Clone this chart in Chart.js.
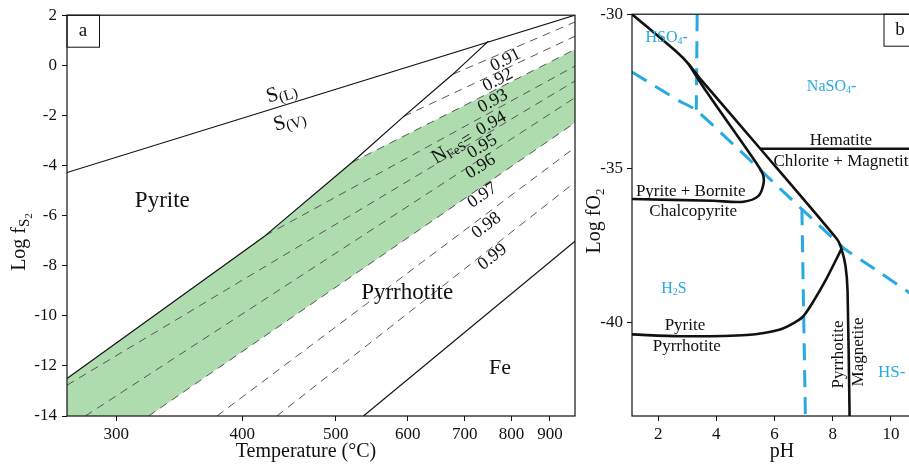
<!DOCTYPE html>
<html>
<head>
<meta charset="utf-8">
<script src="https://cdn.jsdelivr.net/npm/chart.js@4.4.0/dist/chart.umd.min.js"></script>
<style>
html,body{margin:0;padding:0;background:#fff;overflow:hidden;width:909px;height:466px;}
#wrapA{position:absolute;left:0;top:0;width:600px;height:466px;}
#wrapB{position:absolute;left:580px;top:0;width:345px;height:466px;}
canvas{display:block;}
</style>
</head>
<body>
<div id="wrapA"><canvas id="chartA" width="600" height="466" style="width:600px;height:466px"></canvas></div>
<div id="wrapB"><canvas id="chartB" width="345" height="466" style="width:345px;height:466px"></canvas></div>
<script>
// ---------------- Panel a data (Temperature °C, log fS2) ----------------
const T_TICKS = [300, 400, 500, 600, 700, 800, 900];
const LOGFS2_TICKS = [-14, -12, -10, -8, -6, -4, -2, 0, 2];
const T_RANGE = [268.5, 975.4];
const LOGFS2_RANGE = [-14, 2];

const sulfurT = [268.5, 975.4];
const sulfurLogFS2 = [-4.28, 2.0];

const pyriteT = [268.5, 422.1, 520.5, 594.0, 677.0, 748.2];
const pyriteLogFS2 = [-12.50, -6.80, -3.88, -2.04, -0.36, 0.965];

const ironT = [535.8, 975.4];
const ironLogFS2 = [-14, -7.02];

const nFeS = ['0.91', '0.92', '0.93', '0.94', '0.95', '0.96', '0.97', '0.98', '0.99'];
const isoStartT = [677.0, 594.0, 520.5, 422.1, 268.5, 279.8, 322.7, 377.2, 433.9];
const isoStartLogFS2 = [-0.36, -2.04, -3.88, -6.80, -12.77, -14, -14, -14, -14];
const isoEndT = [975.4, 975.4, 975.4, 975.4, 975.4, 975.4, 975.4, 975.4, 975.4];
const isoEndLogFS2 = [1.73, 1.16, 0.635, -0.03, -0.627, -1.29, -2.29, -3.28, -4.67];

const greenT = [268.5, 422.1, 520.5, 975.4, 975.4, 322.7, 268.5];
const greenLogFS2 = [-12.50, -6.80, -3.88, 0.635, -2.29, -14, -14];

// ---------------- Panel b data (pH, log fO2) ----------------
const PH_TICKS = [2, 4, 6, 8, 10];
const LOGFO2_TICKS = [-40, -35, -30];
const PH_RANGE = [1.1, 11];
const LOGFO2_RANGE = [-43.05, -30];

const outerBoundaryPH = [1.1, 2.64, 3.04, 3.44, 5.51, 8.15, 8.30, 8.44, 8.51, 8.58];
const outerBoundaryLogFO2 = [-30.0, -31.23, -31.61, -32.09, -34.37, -37.31, -37.62, -38.18, -38.99, -43.06];

const borniteBoundaryPH = [3.04, 3.67, 5.39, 5.60, 5.62, 5.45, 4.93, 3.89, 1.1];
const borniteBoundaryLogFO2 = [-31.61, -32.53, -34.86, -35.20, -35.51, -35.90, -36.09, -36.06, -36.00];

const pyrrhotiteBoundaryPH = [1.1, 2.75, 5.05, 6.19, 6.77, 7.00, 7.34, 7.80, 8.15, 8.30];
const pyrrhotiteBoundaryLogFO2 = [-40.40, -40.46, -40.42, -40.24, -39.97, -39.80, -39.32, -38.56, -37.91, -37.62];

const hematiteBoundaryPH = [5.51, 11.0];
const hematiteBoundaryLogFO2 = [-34.37, -34.37];

const hso4BoundaryPH = [3.34, 3.31];
const hso4BoundaryLogFO2 = [-30.0, -33.10];

const h2sBoundaryPH = [6.94, 7.06];
const h2sBoundaryLogFO2 = [-36.30, -43.05];

const sulfateBoundaryPH = [1.1, 1.95, 2.75, 3.33, 8.36, 9.29, 11.0];
const sulfateBoundaryLogFO2 = [-31.88, -32.37, -32.83, -33.13, -37.58, -38.18, -39.28];

// ---------------- helpers ----------------
const SERIF = '"Liberation Serif","Times New Roman",serif';
const BLUE = '#27aae1';
const INK = '#111';
const toInvT = T => -1000 / (T + 273.15);

function series(xs, ys, fx) { return xs.map((x, i) => ({ x: fx ? fx(x) : x, y: ys[i] })); }
function lineDs(data, color, width, dash, extra) {
  return Object.assign({
    data, borderColor: color, borderWidth: width, borderDash: dash || [],
    pointRadius: 0, pointHoverRadius: 0, fill: false, tension: 0,
    borderCapStyle: 'butt', borderJoinStyle: 'round', order: 1
  }, extra || {});
}
function drawRich(ctx, parts, x, y, opt) {
  opt = opt || {};
  ctx.save();
  ctx.translate(x, y);
  ctx.rotate((opt.rot || 0) * Math.PI / 180);
  ctx.fillStyle = opt.color || INK;
  ctx.textBaseline = 'alphabetic';
  ctx.textAlign = 'left';
  let w = 0;
  parts.forEach(p => { ctx.font = p.size + 'px ' + SERIF; p._w = ctx.measureText(p.t).width; w += p._w; });
  let cx = opt.align === 'left' ? 0 : (opt.align === 'right' ? -w : -w / 2);
  const base = opt.baseline ? 0 : parts[0].size * 0.32;
  parts.forEach(p => { ctx.font = p.size + 'px ' + SERIF; ctx.fillText(p.t, cx, base + (p.dy || 0)); cx += p._w; });
  ctx.restore();
}
const txt = (t, size) => [{ t, size }];

// ---------------- annotation texts ----------------
const labelsA = [
  { parts: [{ t: 'S', size: 21 }, { t: '(L)', size: 15, dy: 3 }], T: 438.4, f: -1.06, rot: -17 },
  { parts: [{ t: 'S', size: 21 }, { t: '(V)', size: 15, dy: 3 }], T: 446.8, f: -2.18, rot: -17 },
  { parts: txt('Pyrite', 23), T: 332.9, f: -5.36, rot: 0 },
  { parts: txt('Pyrrhotite', 23), T: 599.2, f: -9.02, rot: 0 },
  { parts: txt('Fe', 22), T: 773.9, f: -12.05, rot: 0 },
  { parts: [{ t: 'N', size: 20 }, { t: 'FeS', size: 13, dy: 3 }, { t: '=', size: 18 }], T: 675.2, f: -3.25, rot: -32 },
  { parts: txt(nFeS[0], 18), T: 785.3, f: 0.24, rot: -27 },
  { parts: txt(nFeS[1], 18), T: 767.9, f: -0.56, rot: -28 },
  { parts: txt(nFeS[2], 18), T: 756.8, f: -1.40, rot: -29 },
  { parts: txt(nFeS[3], 18), T: 753.3, f: -2.29, rot: -30 },
  { parts: txt(nFeS[4], 18), T: 734.2, f: -3.21, rot: -31 },
  { parts: txt(nFeS[5], 18), T: 730.7, f: -4.01, rot: -32 },
  { parts: txt(nFeS[6], 18), T: 734.2, f: -5.16, rot: -34 },
  { parts: txt(nFeS[7], 18), T: 742.6, f: -6.36, rot: -37 },
  { parts: txt(nFeS[8], 18), T: 755.5, f: -7.62, rot: -38 }
];

const labelsB = [
  { parts: [{ t: 'HSO', size: 16 }, { t: '4', size: 10, dy: 2 }, { t: '-', size: 16 }], pH: 2.29, f: -30.74, color: BLUE },
  { parts: [{ t: 'NaSO', size: 16 }, { t: '4', size: 10, dy: 2 }, { t: '-', size: 16 }], pH: 7.96, f: -32.34, color: BLUE },
  { parts: [{ t: 'H', size: 16 }, { t: '2', size: 10, dy: 2 }, { t: 'S', size: 16 }], pH: 2.54, f: -38.89, color: BLUE },
  { parts: txt('HS-', 17), pH: 10.03, f: -41.6, color: BLUE },
  { parts: txt('Hematite', 17), pH: 8.28, f: -34.06 },
  { parts: txt('Chlorite + Magnetite', 17), pH: 5.96, f: -34.74, align: 'left' },
  { parts: txt('Pyrite + Bornite', 17), pH: 3.12, f: -35.72 },
  { parts: txt('Chalcopyrite', 17), pH: 3.20, f: -36.37 },
  { parts: txt('Pyrite', 17), pH: 2.92, f: -40.07 },
  { parts: txt('Pyrrhotite', 17), pH: 2.98, f: -40.75 },
  { parts: txt('Pyrrhotite', 17), pH: 8.16, f: -41.05, rot: -90 },
  { parts: txt('Magnetite', 17), pH: 8.87, f: -40.97, rot: -90 }
];

// ---------------- plugins ----------------
const decorA = {
  id: 'decorA',
  afterDatasetsDraw(chart) {
    const { ctx, chartArea: a, scales: { x, y } } = chart;
    ctx.save();
    ctx.strokeStyle = INK; ctx.lineWidth = 1.2;
    ctx.strokeRect(a.left, a.top, a.right - a.left, a.bottom - a.top);
    ctx.lineWidth = 1;
    ctx.strokeRect(a.left, a.top, 32.5, 32);
    drawRich(ctx, txt('a', 19), a.left + 16, a.top + 21, { baseline: true });
    labelsA.forEach(l => drawRich(ctx, l.parts, x.getPixelForValue(toInvT(l.T)), y.getPixelForValue(l.f), { rot: l.rot }));
    drawRich(ctx, [{ t: 'Log f', size: 20 }, { t: 'S', size: 15, dy: 4 }, { t: '2', size: 11, dy: 7 }], 19, 242, { rot: -90 });
    drawRich(ctx, txt('Temperature (°C)', 20), 306, 451);
    ctx.restore();
  }
};
const decorB = {
  id: 'decorB',
  afterDatasetsDraw(chart) {
    const { ctx, chartArea: a, scales: { x, y } } = chart;
    ctx.save();
    ctx.strokeStyle = INK; ctx.lineWidth = 1.2;
    ctx.strokeRect(a.left, a.top, a.right - a.left, a.bottom - a.top);
    ctx.lineWidth = 1;
    ctx.strokeRect(a.right - 36, a.top, 60, 32);
    drawRich(ctx, txt('b', 19), a.right - 20, a.top + 21, { baseline: true });
    labelsB.forEach(l => drawRich(ctx, l.parts, x.getPixelForValue(l.pH), y.getPixelForValue(l.f), { rot: l.rot || 0, color: l.color, align: l.align }));
    drawRich(ctx, [{ t: 'Log fO', size: 20 }, { t: '2', size: 13, dy: 4 }], 14, 221, { rot: -90 });
    drawRich(ctx, txt('pH', 20), 202, 451);
    ctx.restore();
  }
};

function axisCommon(tickVals, fitFn, pad, toVal, fmt) {
  return {
    type: 'linear',
    afterBuildTicks: s => { s.ticks = tickVals.map(v => ({ value: toVal ? toVal(v) : v })); },
    afterFit: fitFn,
    ticks: { callback: fmt, font: { family: SERIF, size: 17 }, color: INK, padding: pad, maxRotation: 0, autoSkip: false, includeBounds: false },
    grid: { display: true, drawOnChartArea: false, drawTicks: true, tickLength: 5, color: INK, lineWidth: 1 },
    border: { display: false }
  };
}

// ---------------- Chart a ----------------
const dsA = [];
dsA.push(lineDs(series(greenT, greenLogFS2, toInvT), 'rgba(0,0,0,0)', 0, [], { fill: 'shape', backgroundColor: '#afdcae', order: 100 }));
nFeS.forEach((n, i) => {
  dsA.push(lineDs(series([isoStartT[i], isoEndT[i]], [isoStartLogFS2[i], isoEndLogFS2[i]], toInvT), '#555', 1, [8, 6], { order: 5 }));
});
dsA.push(lineDs(series(sulfurT, sulfurLogFS2, toInvT), INK, 1.2));
dsA.push(lineDs(series(pyriteT, pyriteLogFS2, toInvT), INK, 1.2));
dsA.push(lineDs(series(ironT, ironLogFS2, toInvT), INK, 1.2));

const xA = axisCommon(T_TICKS, s => { s.height = 50; }, 3, toInvT, v => String(Math.round(-1000 / v - 273.15)));
xA.min = toInvT(T_RANGE[0]); xA.max = toInvT(T_RANGE[1]);
const yA = axisCommon(LOGFS2_TICKS, s => { s.width = 67; }, 5, null, v => String(v));
yA.min = LOGFS2_RANGE[0]; yA.max = LOGFS2_RANGE[1];

new Chart(document.getElementById('chartA'), {
  type: 'line',
  data: { datasets: dsA },
  options: {
    responsive: false, animation: false, devicePixelRatio: 1,
    layout: { padding: { top: 14, right: 25, left: 0, bottom: 0 } },
    plugins: { legend: { display: false }, tooltip: { enabled: false } },
    scales: { x: xA, y: yA }
  },
  plugins: [decorA]
});

// ---------------- Chart b ----------------
const dsB = [
  lineDs(series(hso4BoundaryPH, hso4BoundaryLogFO2), BLUE, 3, [17, 10], { order: 5 }),
  lineDs(series(h2sBoundaryPH, h2sBoundaryLogFO2), BLUE, 3, [17, 10], { order: 5 }),
  lineDs(series(sulfateBoundaryPH, sulfateBoundaryLogFO2), BLUE, 3, [17, 10], { order: 5, tension: 0.2 }),
  lineDs(series(outerBoundaryPH, outerBoundaryLogFO2), INK, 2.6, [], { tension: 0.25 }),
  lineDs(series(borniteBoundaryPH, borniteBoundaryLogFO2), INK, 2.6, [], { tension: 0.3 }),
  lineDs(series(pyrrhotiteBoundaryPH, pyrrhotiteBoundaryLogFO2), INK, 2.6, [], { tension: 0.3 }),
  lineDs(series(hematiteBoundaryPH, hematiteBoundaryLogFO2), INK, 2.6)
];
const xB = axisCommon(PH_TICKS, s => { s.height = 50; }, 3, null, v => String(v));
xB.min = PH_RANGE[0]; xB.max = PH_RANGE[1];
const yB = axisCommon(LOGFO2_TICKS, s => { s.width = 52; }, 4, null, v => String(v));
yB.min = LOGFO2_RANGE[0]; yB.max = LOGFO2_RANGE[1];

new Chart(document.getElementById('chartB'), {
  type: 'line',
  data: { datasets: dsB },
  options: {
    responsive: false, animation: false, devicePixelRatio: 1,
    layout: { padding: { top: 14, right: 5, left: 0, bottom: 0 } },
    plugins: { legend: { display: false }, tooltip: { enabled: false } },
    scales: { x: xB, y: yB }
  },
  plugins: [decorB]
});
</script>
</body>
</html>
